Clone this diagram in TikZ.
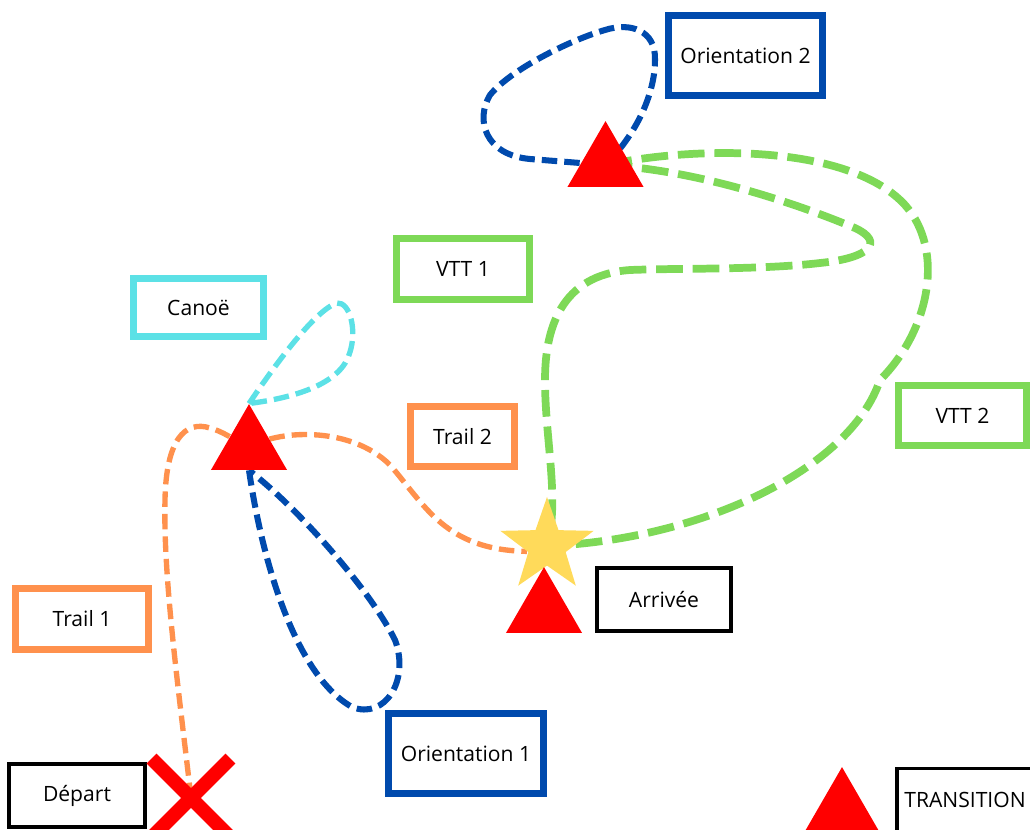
\documentclass[tikz,border=0pt]{standalone}
\usepackage{fontspec}
\setmainfont{Open Sans}
\usetikzlibrary{shapes.geometric, shapes.misc, backgrounds}

\definecolor{bleuO}{RGB}{0,74,173}
\definecolor{vertV}{RGB}{126,217,87}
\definecolor{orangeT}{RGB}{255,145,77}
\definecolor{cyanC}{RGB}{92,225,230}
\definecolor{rouge}{RGB}{255,0,0}
\definecolor{jaune}{RGB}{255,218,90}

\begin{document}
\begin{tikzpicture}[x=0.025cm, y=-0.025cm,
        boite/.style={draw, rectangle, line width=5pt, inner sep=0pt, font=\fontsize{15}{18}\selectfont},
        noire/.style={boite, draw=black, line width=2.8pt},
        relais/.style={regular polygon, regular polygon sides=3, fill=rouge, inner sep=0pt, minimum size=2.195cm},
        chemin/.style={line width=3.8pt, dash pattern=on 11pt off 5pt}]
        \useasboundingbox (0,0) rectangle (1030,829);

        % etapes
        \node[boite, draw=bleuO, minimum width=3.85cm, minimum height=2cm] (orient2) at (745.5,55.5) {Orientation 2};
        \node[boite, draw=vertV, minimum width=3.33cm, minimum height=1.53cm] (vtt1) at (463,269) {VTT 1};
        \node[boite, draw=cyanC, minimum width=3.25cm, minimum height=1.45cm] (canoe) at (198.5,307.5) {Canoë};
        \node[boite, draw=orangeT, minimum width=2.6cm, minimum height=1.5cm] (trail2) at (462.5,436.5) {Trail 2};
        \node[boite, draw=vertV, minimum width=3.2cm, minimum height=1.5cm] (vtt2) at (962.5,415.5) {VTT 2};
        \node[boite, draw=orangeT, minimum width=3.33cm, minimum height=1.53cm] (trail1) at (82,619) {Trail 1};
        \node[boite, draw=bleuO, minimum width=3.875cm, minimum height=2cm] (orient1) at (466,753.5) {Orientation 1};
        \node[noire, minimum width=3.35cm, minimum height=1.575cm] (arrivee) at (664,599.5) {Arrivée};
        \node[noire, minimum width=3.4cm, minimum height=1.575cm] (depart) at (77,795.5) {Départ};
        \node[noire, minimum width=3.4cm, minimum height=1.575cm] (legende) at (965,800) {TRANSITION};

        % points de passage
        \node[relais] (t1) at (249,448) {};
        \node[relais] (t2) at (605.5,165) {};
        \node[star, star points=5, star point ratio=2.5, fill=jaune, inner sep=0pt, minimum size=2.45cm] (fin) at (547,546) {};
        \node[relais] (t3) at (544,611) {};
        \node[relais] (t4) at (842,811) {};
        \node[cross out, draw=rouge, line width=10pt, minimum size=1.62cm, inner sep=0pt] (croix) at (191,798) {};

        \begin{scope}[on background layer]
            % trail 1
            \draw[chemin, orangeT] (croix.center) .. controls (180,700) and (163,580) .. (165,500)
                .. controls (166,440) and (185,420) .. (210,428) .. controls (222,431) and (235,440) .. (t1.center);
            % trail 2
            \draw[chemin, orangeT] (t1.center) .. controls (275,430) and (350,425) .. (390,465)
                .. controls (425,505) and (445,550) .. (fin.195);
            % canoe
            \draw[chemin, cyanC] (t1.corner 1) .. controls (275,365) and (315,310) .. (337,303)
                .. controls (350,302) and (357,330) .. (350,352) .. controls (342,382) and (300,397) .. (t1.corner 1);
            % orientation 1
            \draw[chemin, bleuO, line width=4.3pt, dash pattern=on 11pt off 5pt] (t1.south) .. controls (262,560) and (295,675) .. (352,707)
                .. controls (385,720) and (410,680) .. (395,640) .. controls (370,590) and (300,510) .. (t1.south);
            % orientation 2
            \draw[chemin, bleuO, line width=4.3pt, dash pattern=on 11pt off 5pt] (t2.center) .. controls (640,130) and (655,90) .. (655,60)
                .. controls (656,30) and (630,22) .. (605,30) .. controls (570,40) and (510,70) .. (490,95)
                .. controls (475,120) and (485,155) .. (530,159) -- (t2.center);
            % vtt 1
            \draw[chemin, vertV, line width=5.5pt, dash pattern=on 19pt off 7pt] (t2.center) .. controls (700,170) and (800,205) .. (855,228)
                .. controls (885,242) and (870,258) .. (820,263) .. controls (760,270) and (680,268) .. (630,270)
                .. controls (560,275) and (545,330) .. (545,380) .. controls (545,440) and (560,500) .. (fin.center);
            % vtt 2
            \draw[chemin, vertV, line width=5.5pt, dash pattern=on 19pt off 7pt] (t2.center) .. controls (700,145) and (850,145) .. (905,205)
                .. controls (945,250) and (930,330) .. (880,380) .. controls (850,470) and (700,540) .. (fin.center);
        \end{scope}
    \end{tikzpicture}
\end{document}
